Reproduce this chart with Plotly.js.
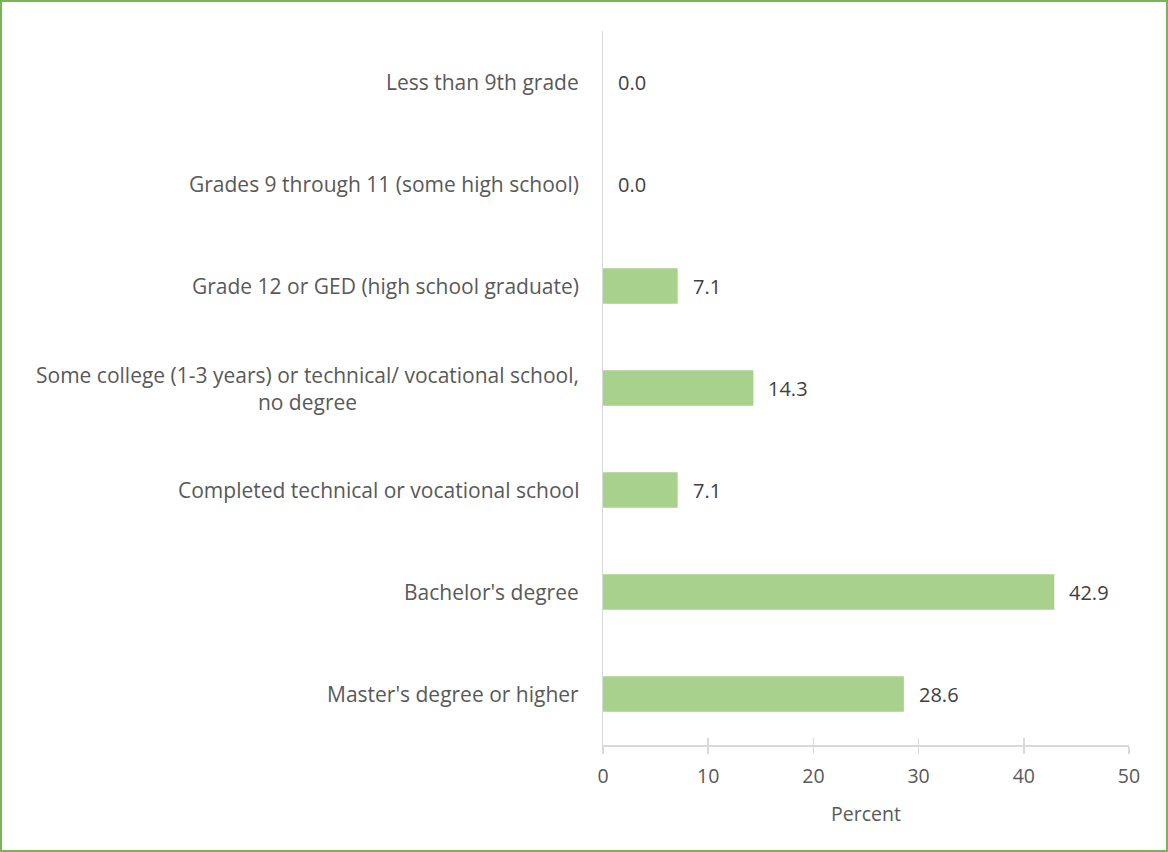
<!DOCTYPE html>
<html>
<head>
<meta charset="utf-8">
<script src="https://cdn.plot.ly/plotly-3.0.1.min.js"></script>
<style>
html,body{margin:0;padding:0;background:#fff;}
#wrap{position:relative;width:1168px;height:852px;}
#chart{position:absolute;left:0;top:0;width:1168px;height:852px;}
#border{position:absolute;left:0;top:0;width:1164px;height:848px;border:2px solid #7ab356;pointer-events:none;}
</style>
</head>
<body>
<div id="wrap"><div id="chart"></div><div id="border"></div></div>
<script>
const categories = [
  "Less than 9th grade",
  "Grades 9 through 11 (some high school)",
  "Grade 12 or GED (high school graduate)",
  "Some college (1-3 years) or technical/ vocational school,<br>no degree",
  "Completed technical or vocational school",
  "Bachelor's degree",
  "Master's degree or higher"
];
const percentValues = [0.0, 0.0, 7.1, 14.3, 7.1, 42.9, 28.6];
const xTickValues = [0, 10, 20, 30, 40, 50];
const xAxisTitle = "Percent";

const FONT = "'Open Sans', sans-serif";

const trace = {
  type: 'bar',
  orientation: 'h',
  y: categories,
  x: percentValues,
  marker: {color: '#a9d18e'},
  hoverinfo: 'x+y'
};

const catLabels = categories.map(c => ({
  xref: 'paper', yref: 'y', x: 0, y: c, xanchor: 'right', xshift: -22,
  text: c, showarrow: false, align: 'center',
  font: {family: FONT, size: 21, color: '#595959'}
}));

const valueLabels = categories.map((c, i) => ({
  xref: 'x', yref: 'y', x: percentValues[i], y: c, xanchor: 'left', xshift: 13,
  text: percentValues[i].toFixed(1), showarrow: false,
  font: {family: FONT, size: 20, color: '#404040'}
}));

const layout = {
  width: 1168, height: 852,
  margin: {l: 603, r: 39, t: 31, b: 107},
  paper_bgcolor: '#ffffff', plot_bgcolor: '#ffffff',
  showlegend: false,
  bargap: 0.65,
  font: {family: FONT, size: 18, color: '#595959'},
  xaxis: {
    range: [0, 50], tickvals: xTickValues, showgrid: false, zeroline: false,
    showline: true, linecolor: '#d9d9d9', linewidth: 1.5,
    ticks: 'outside', ticklen: 7, tickcolor: '#d9d9d9', tickwidth: 1.5,
    ticklabelstandoff: 6,
    tickfont: {family: FONT, size: 19.5, color: '#595959'},
    title: {text: xAxisTitle, font: {family: FONT, size: 19.5, color: '#595959'}, standoff: 19},
    fixedrange: true
  },
  xaxis2: {
    overlaying: 'x', anchor: 'y', side: 'bottom', matches: 'x',
    range: [0, 50], tickvals: xTickValues, showgrid: false, zeroline: false,
    showline: false, ticks: 'inside', ticklen: 7, tickcolor: '#d9d9d9', tickwidth: 1.5,
    showticklabels: false
  },
  yaxis: {
    type: 'category', autorange: 'reversed', showgrid: false, zeroline: false,
    showline: true, linecolor: '#d9d9d9', linewidth: 1.5,
    showticklabels: false, ticks: '', fixedrange: true
  },
  annotations: catLabels.concat(valueLabels)
};

const ghost = {type: 'scatter', x: [], y: [], xaxis: 'x2', yaxis: 'y', hoverinfo: 'skip', showlegend: false};

Plotly.newPlot('chart', [trace, ghost], layout, {displayModeBar: false, staticPlot: true});
</script>
</body>
</html>
